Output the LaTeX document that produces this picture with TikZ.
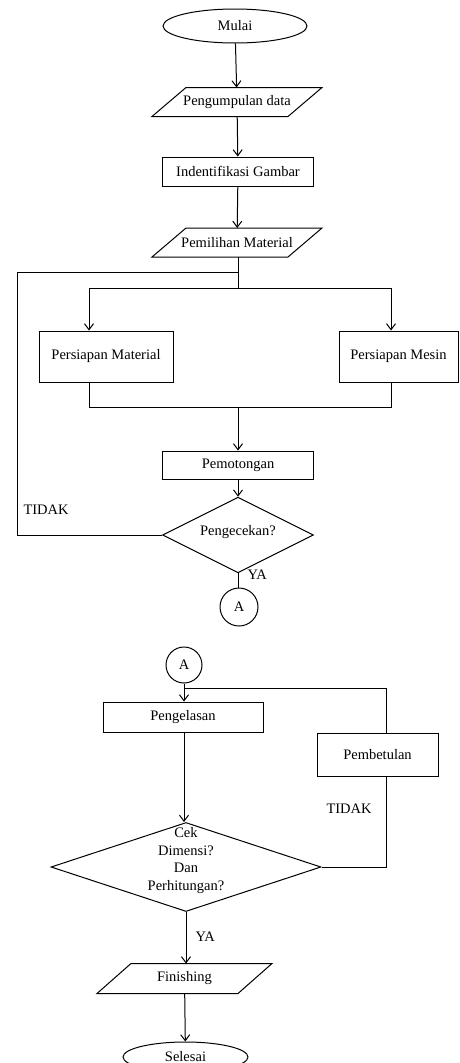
\documentclass[tikz,border=0pt]{standalone}
\usepackage{fontspec}
\setmainfont{Liberation Serif}
\usetikzlibrary{arrows.meta, positioning, shapes.geometric}

\begin{document}
\begin{tikzpicture}[
  x=1pt, y=-1pt,
  line width=1pt,
  every node/.style={font=\fontsize{14.5}{17.5}\selectfont},
  terminal/.style={ellipse, draw, inner sep=0pt},
  io/.style={rectangle, inner sep=0pt, minimum height=28},
  proc/.style={rectangle, draw, inner sep=0pt},
  decision/.style={diamond, draw, inner sep=0pt},
  connector/.style={circle, draw, inner sep=0pt},
  tag/.style={inner sep=0pt, anchor=west},
  flow/.style={-{Straight Barb[length=6pt, width=9pt]}}
]
\useasboundingbox (0,0) rectangle (459,1063);

\node[terminal, minimum width=144, minimum height=34] (mulai) at (235,26) {Mulai};
\node[io, minimum width=135] (kumpul) at (237,102) {Pengumpulan data};
\node[proc, minimum width=151, minimum height=29] (ident) at (238,171.5) {Indentifikasi Gambar};
\node[io, minimum width=135] (pilih) at (237,242.5) {Pemilihan Material};
\node[proc, minimum width=134, minimum height=51] (pmat) at (106,356.5) {Persiapan Material};
\node[proc, minimum width=119, minimum height=51] (pmes) at (398.5,356.5) {Persiapan Mesin};
\node[proc, minimum width=151, minimum height=28] (potong) at (238,465) {Pemotongan};
\node[decision, minimum width=151, minimum height=44] (cekA) at (238,535) {\smash{Pengecekan?}};
\node[connector, minimum size=38] (konA) at (239,607) {A};
\node[connector, minimum size=36] (konB) at (184,665) {A};
\node[proc, minimum width=160, minimum height=30] (las) at (183,717) {Pengelasan};
\node[proc, minimum width=121, minimum height=43] (betul) at (377.5,754.5) {Pembetulan};
\node[decision, minimum width=270, minimum height=89] (cekB) at (186,867)
  {\raisebox{6pt}{\smash{\begin{tabular}{@{}c@{}}Cek\\Dimensi?\\Dan\\Perhitungan?\end{tabular}}}};
\node[io, minimum width=140, minimum height=29] (finish) at (184.5,978.5) {Finishing};
\node[terminal, minimum width=125, minimum height=30] (selesai) at (185.5,1057) {Selesai};

\foreach \n in {kumpul, pilih, finish}
  \draw ([xshift=-17pt]\n.south west) -- ([xshift=17pt]\n.north west)
    -- ([xshift=17pt]\n.north east) -- ([xshift=-17pt]\n.south east) -- cycle;

\node[tag] (tidakA) at (23,510) {TIDAK};
\node[tag] (yaA) at (247,575) {YA};
\node[tag] (tidakB) at (326,809) {TIDAK};
\node[tag] (yaB) at (195,937) {YA};

\coordinate (balikL) at (17,272);
\coordinate (balikR) at (238,272);
\coordinate (bagi) at (238,288);
\coordinate (bagiL) at (89,288);
\coordinate (bagiR) at (391,288);
\coordinate (gabung) at (238,407);
\coordinate (gabungL) at (89,407);
\coordinate (gabungR) at (391,407);
\coordinate (ulangR) at (386,688);
\coordinate (ulangL) at (184,688);

\draw[flow] (mulai) -- (kumpul);
\draw[flow] (kumpul) -- (ident);
\draw[flow] (ident) -- (pilih);
\draw (pilih.south -| bagi) -- (bagi);
\draw (bagiL) -- (bagiR);
\draw[flow] (bagiL) -- (bagiL |- pmat.north);
\draw[flow] (bagiR) -- (bagiR |- pmes.north);
\draw (gabungL |- pmat.south) -- (gabungL) -- (gabungR) -- (gabungR |- pmes.south);
\draw[flow] (gabung) -- (gabung |- potong.north);
\draw[flow] (potong) -- (cekA);
\draw (cekA.west) -| (balikL) -- (balikR);
\draw (cekA.south) -- (cekA.south |- konA.north);
\draw[flow] (konB) -- (konB |- las.north);
\draw (ulangR |- betul.north) -- (ulangR) -- (ulangL);
\draw[flow] (konB |- las.south) -- (konB |- cekB.north);
\draw (ulangR |- betul.south) |- (cekB.east);
\draw[flow] (cekB.south) -- (cekB.south |- finish.north);
\draw[flow] (finish) -- (selesai);
\end{tikzpicture}
\end{document}
